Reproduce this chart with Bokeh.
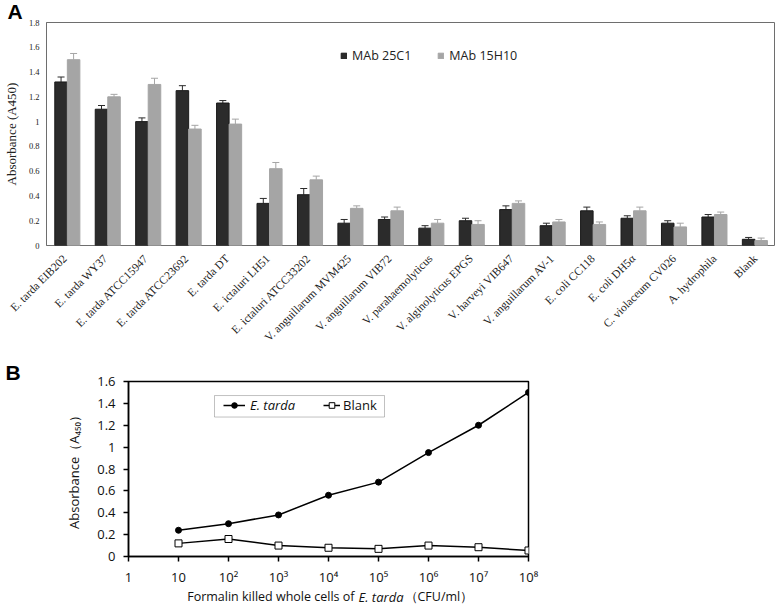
import math
from bokeh.plotting import figure
from bokeh.models import (Range1d, FixedTicker, NumeralTickFormatter, Whisker, TeeHead,
                          Legend, LegendItem, Label, BoxAnnotation, ColumnDataSource)
from bokeh.core.properties import value
from bokeh.layouts import column
from bokeh.embed import file_html
from bokeh.resources import INLINE

# ---------------- data: panel A ----------------
strains = ["E. tarda EIB202", "E. tarda WY37", "E. tarda ATCC15947", "E. tarda ATCC23692",
           "E. tarda DT", "E. ictaluri LH51", "E. ictaluri ATCC33202", "V. anguillarum MVM425",
           "V. anguillarum VIB72", "V. parahaemolyticus", "V. alginolyticus EPGS",
           "V. harveyi VIB647", "V. anguillarum AV-1", "E. coli CC118", "E. coli DH5\u03b1",
           "C. violaceum CV026", "A. hydrophila", "Blank"]
mab25c1 = [1.32, 1.10, 1.00, 1.25, 1.15, 0.34, 0.41, 0.18, 0.21, 0.14, 0.20, 0.29, 0.16,
           0.28, 0.22, 0.18, 0.23, 0.05]
mab25c1_err = [0.04, 0.03, 0.03, 0.04, 0.02, 0.04, 0.05, 0.03, 0.02, 0.02, 0.02, 0.03,
               0.02, 0.03, 0.02, 0.02, 0.02, 0.015]
mab15h10 = [1.50, 1.20, 1.30, 0.94, 0.98, 0.62, 0.53, 0.30, 0.28, 0.18, 0.17, 0.34, 0.19,
            0.17, 0.28, 0.15, 0.25, 0.04]
mab15h10_err = [0.05, 0.02, 0.05, 0.03, 0.04, 0.05, 0.03, 0.02, 0.03, 0.03, 0.03, 0.02,
                0.02, 0.02, 0.03, 0.03, 0.02, 0.02]
yticks_a = [0, 0.2, 0.4, 0.6, 0.8, 1, 1.2, 1.4, 1.6, 1.8]

# ---------------- data: panel B ----------------
conc = [1e1, 1e2, 1e3, 1e4, 1e5, 1e6, 1e7, 1e8]
etarda = [0.24, 0.30, 0.38, 0.56, 0.68, 0.95, 1.20, 1.50]
blank = [0.12, 0.16, 0.10, 0.08, 0.07, 0.10, 0.085, 0.055]
xticks_b = [1, 1e1, 1e2, 1e3, 1e4, 1e5, 1e6, 1e7, 1e8]
xtick_labels_b = ["1", "10", "10\u00b2", "10\u00b3", "10\u2074", "10\u2075", "10\u2076",
                  "10\u2077", "10\u2078"]
yticks_b = [0, 0.2, 0.4, 0.6, 0.8, 1, 1.2, 1.4, 1.6]

SERIF = "Liberation Serif"
SANS = "Open Sans"
DARK = "#2b2b2b"
GRAY = "#a5a5a5"

# layout constants (pixels)
A_W, A_LEFT, A_RIGHT, A_TOP, A_FRAME_H, A_BOTTOM = 776, 43, 2, 22, 223, 6
n = len(strains)
unit_px = (A_W - A_LEFT - A_RIGHT) / n

# ================= Panel A =================
pA = figure(width=A_W, height=A_TOP + A_FRAME_H + A_BOTTOM, x_range=Range1d(-0.5, n - 0.5),
            y_range=Range1d(0, 1.8), x_axis_location=None,
            output_backend="svg", toolbar_location=None,
            min_border_left=A_LEFT, min_border_right=A_RIGHT, min_border_top=A_TOP,
            min_border_bottom=A_BOTTOM)
pA.xgrid.visible = False
pA.ygrid.visible = False
pA.outline_line_color = "#6e6e6e"
pA.outline_line_width = 1

xd = [i - 0.14 for i in range(n)]
xg = [i + 0.17 for i in range(n)]
src_d = ColumnDataSource(dict(x=xd, top=mab25c1,
                              upper=[v + e for v, e in zip(mab25c1, mab25c1_err)]))
src_g = ColumnDataSource(dict(x=xg, top=mab15h10,
                              upper=[v + e for v, e in zip(mab15h10, mab15h10_err)]))
rd = pA.vbar(x="x", top="top", width=0.31, source=src_d, fill_color=DARK, line_color="#1a1a1a")
rg = pA.vbar(x="x", top="top", width=0.31, source=src_g, fill_color=GRAY, line_color=GRAY)
pA.add_layout(Whisker(source=src_d, base="x", lower="top", upper="upper", dimension="height",
                      line_color=DARK, line_width=1, lower_head=None,
                      upper_head=TeeHead(size=7, line_color=DARK, line_width=1)))
pA.add_layout(Whisker(source=src_g, base="x", lower="top", upper="upper", dimension="height",
                      line_color=GRAY, line_width=1, lower_head=None,
                      upper_head=TeeHead(size=7, line_color=GRAY, line_width=1)))

legA = Legend(items=[LegendItem(label="MAb 25C1", renderers=[rd]),
                     LegendItem(label="MAb 15H10", renderers=[rg])],
              orientation="horizontal", location=(294, 181), padding=0, margin=0,
              spacing=26, glyph_width=7, glyph_height=7, label_height=7, label_standoff=5,
              border_line_color=None, background_fill_alpha=0,
              label_text_font=SANS, label_text_font_size="12.5px", label_text_color="#222222")
pA.add_layout(legA)

ya = pA.yaxis[0]
ya.ticker = FixedTicker(ticks=yticks_a, minor_ticks=[])
ya.formatter = NumeralTickFormatter(format="0.[0]")
ya.major_label_text_font = SERIF
ya.major_label_text_font_size = "8.5px"
ya.major_label_text_color = "#222222"
ya.major_tick_out = 0
ya.major_tick_in = 0
ya.minor_tick_out = 0
ya.minor_tick_in = 0
ya.major_label_standoff = 7
ya.axis_line_color = "#6e6e6e"
ya.axis_label = "Absorbance (A450)"
ya.axis_label_text_font = SERIF
ya.axis_label_text_font_size = "13px"
ya.axis_label_text_font_style = "normal"
ya.axis_label_text_color = "#222222"
ya.axis_label_standoff = 7

pA.title.text = "A"
pA.title.align = "left"
pA.title.offset = -39
pA.title.standoff = -5
pA.title.vertical_align = "top"
pA.title.text_font = "Liberation Sans"
pA.title.text_font_style = "bold"
pA.title.text_font_size = "21px"
pA.title.text_color = "black"

# category labels strip (same horizontal scale as panel A, extended to the left edge)
STRIP_H = 358 - (A_TOP + A_FRAME_H + A_BOTTOM)
stripA = figure(width=A_W, height=STRIP_H,
                x_range=Range1d(n - 0.5 - (A_W - A_RIGHT) / unit_px, n - 0.5),
                y_range=Range1d(STRIP_H, 0), x_axis_location=None, y_axis_location=None,
                output_backend="svg", toolbar_location=None,
                min_border_left=0, min_border_right=A_RIGHT, min_border_top=0,
                min_border_bottom=0)
stripA.outline_line_color = None
stripA.xgrid.visible = False
stripA.ygrid.visible = False
stripA.text(x=list(range(n)), y=5, text=strains, angle=math.pi / 4, text_align="right",
            text_baseline="middle", text_font=value(SERIF), text_font_size="11.5px",
            text_color="#222222", x_offset=1)

# ================= Panel B =================
pB = figure(width=540, height=230, x_axis_type="log", x_range=Range1d(1, 1e8),
            y_range=Range1d(0, 1.6), output_backend="svg", toolbar_location=None,
            min_border_left=128, min_border_right=12, min_border_top=23, min_border_bottom=32)
pB.xgrid.visible = False
pB.ygrid.visible = False
pB.outline_line_color = "black"
pB.outline_line_width = 1.5

rl1 = pB.line(conc, etarda, line_color="black", line_width=1.5)
rs1 = pB.scatter(conc, etarda, marker="circle", size=6, fill_color="black", line_color="black")
rl2 = pB.line(conc, blank, line_color="black", line_width=1.5)
rs2 = pB.scatter(conc, blank, marker="square", size=7, fill_color="white", line_color="black",
                 line_width=1)

def px_to_x(px):
    return 10 ** ((px - 128) / 50.0)

def px_to_y(py):
    return (556 - py) / 109.4

pB.add_layout(BoxAnnotation(left=px_to_x(214), right=px_to_x(384), top=px_to_y(395),
                            bottom=px_to_y(416.5), fill_alpha=0, line_color="#333333",
                            line_width=1))
leg1 = Legend(items=[LegendItem(label="E. tarda", renderers=[rl1, rs1])],
              location=(95, 142), padding=0, margin=0, glyph_width=22, glyph_height=14,
              label_height=14, label_standoff=5, border_line_color=None,
              background_fill_alpha=0, label_text_font=SANS, label_text_font_size="13px",
              label_text_font_style="italic", label_text_color="#111111")
leg2 = Legend(items=[LegendItem(label="Blank", renderers=[rl2, rs2])],
              location=(195, 142), padding=0, margin=0, glyph_width=17, glyph_height=14,
              label_height=14, label_standoff=3, border_line_color=None,
              background_fill_alpha=0, label_text_font=SANS, label_text_font_size="13px",
              label_text_color="#111111")
pB.add_layout(leg1)
pB.add_layout(leg2)

yb = pB.yaxis[0]
yb.ticker = FixedTicker(ticks=yticks_b, minor_ticks=[])
yb.formatter = NumeralTickFormatter(format="0.[0]")
yb.major_label_text_font = SANS
yb.major_label_text_font_size = "13px"
yb.major_label_text_color = "#111111"
yb.major_tick_out = 5
yb.major_tick_in = 0
yb.major_tick_line_width = 1.5
yb.minor_tick_out = 0
yb.major_label_standoff = 8
yb.axis_line_width = 1.5
yb.axis_line_color = "black"
yb.axis_label = "Absorbance\uff08A\u2084\u2085\u2080\uff09"
yb.axis_label_text_font = SANS
yb.axis_label_text_font_size = "13px"
yb.axis_label_text_font_style = "normal"
yb.axis_label_text_color = "#111111"
yb.axis_label_standoff = 11

xb = pB.xaxis[0]
xb.ticker = FixedTicker(ticks=xticks_b, minor_ticks=[])
xb.major_label_overrides = {t: s for t, s in zip(xticks_b, xtick_labels_b)}
xb.major_label_text_font = SANS
xb.major_label_text_font_size = "13px"
xb.major_label_text_color = "#111111"
xb.major_tick_out = 5
xb.major_tick_in = 0
xb.major_tick_line_width = 1.5
xb.minor_tick_out = 0
xb.major_label_standoff = 6
xb.axis_line_width = 1.5
xb.axis_line_color = "black"

pB.title.text = "B"
pB.title.align = "left"
pB.title.offset = -123
pB.title.standoff = -4
pB.title.vertical_align = "bottom"
pB.title.text_font = "Liberation Sans"
pB.title.text_font_style = "bold"
pB.title.text_font_size = "21px"
pB.title.text_color = "black"

# x-axis title strip for panel B (mixed upright / italic text)
stripB = figure(width=540, height=16, x_range=Range1d(0, 540), y_range=Range1d(0, 1),
                x_axis_location=None, y_axis_location=None, output_backend="svg",
                toolbar_location=None, min_border_left=0, min_border_right=0,
                min_border_top=0, min_border_bottom=0)
stripB.outline_line_color = None
stripB.xgrid.visible = False
stripB.ygrid.visible = False
stripB.add_layout(Label(x=354, y=0.5, text="Formalin killed whole cells of",
                        text_align="right", text_baseline="middle", text_font=SANS,
                        text_font_size="12.5px", text_color="#111111"))
stripB.add_layout(Label(x=358, y=0.5, text="E. tarda", text_align="left",
                        text_baseline="middle", text_font=SANS, text_font_style="italic",
                        text_font_size="13px", text_color="#111111"))
stripB.add_layout(Label(x=404, y=0.5, text="\uff08CFU/ml\uff09", text_align="left",
                        text_baseline="middle", text_font=SANS, text_font_size="12.5px",
                        text_color="#111111"))

# each figure in its own column so that their frames are not aligned with each other
layout = column(column(pA), column(stripA), column(pB), column(stripB), spacing=0)
open("out.html", "w").write(file_html(layout, INLINE))
